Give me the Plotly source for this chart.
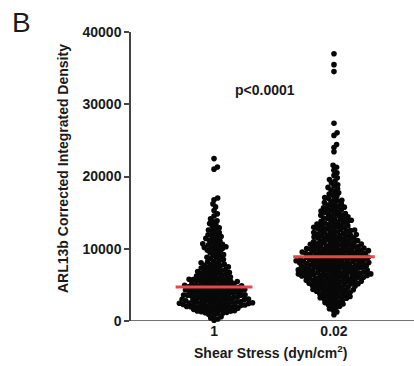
import math
import plotly.graph_objects as go

# ---------------- data ----------------
categories = ["1", "0.02"]
y_ticks = [0, 10000, 20000, 30000, 40000]
y_tick_labels = ["0", "10000", "20000", "30000", "40000"]

shear_1 = [
    110, 280, 430, 600, 750, 910,
    1030, 1090, 1130, 1200, 1240, 1290, 1350, 1390, 1440, 1480, 1530, 1560,
    1610, 1650, 1700, 1740, 1780, 1820, 1870, 1900, 1940, 1980,
    2010, 2040, 2060, 2100, 2130, 2160, 2190, 2220, 2250, 2280, 2310, 2340,
    2370, 2400, 2430, 2460, 2490, 2520, 2550, 2580, 2610, 2640, 2670, 2700,
    2730, 2760, 2790, 2820, 2850, 2880, 2920, 2960,
    3020, 3050, 3090, 3120, 3150, 3190, 3220, 3260, 3290, 3320, 3360, 3390,
    3430, 3460, 3490, 3530, 3560, 3600, 3630, 3660, 3700, 3730, 3770, 3800,
    3830, 3870, 3900, 3940, 3970,
    4020, 4060, 4090, 4130, 4160, 4200, 4230, 4270, 4300, 4340, 4370, 4410,
    4440, 4480, 4510, 4550, 4580, 4620, 4650, 4690, 4720, 4760, 4790, 4830,
    4860, 4900, 4930, 4970,
    5020, 5060, 5110, 5150, 5200, 5240, 5290, 5330, 5380, 5420, 5470, 5510,
    5560, 5600, 5650, 5690, 5740, 5780, 5830, 5870, 5920, 5960,
    6030, 6090, 6150, 6210, 6280, 6340, 6400, 6460, 6530, 6590, 6650, 6710,
    6780, 6840, 6900, 6960,
    7040, 7110, 7190, 7270, 7340, 7420, 7490, 7570, 7650, 7720, 7800, 7870, 7950,
    8060, 8170, 8280, 8390, 8500, 8610, 8720, 8830, 8940,
    9060, 9180, 9310, 9430, 9560, 9680, 9810, 9930,
    10030, 10110, 10190, 10280, 10360, 10450, 10530, 10620, 10700, 10790, 10880,
    11060, 11180, 11310, 11430, 11560, 11680, 11810, 11930,
    12080, 12250, 12410, 12580, 12740, 12910,
    13080, 13310, 13490, 13720, 13880,
    14130, 14520, 14830,
    15280, 15790,
    16210, 16790, 17020,
    21020, 21310, 22480,
]

shear_002 = [
    870,
    1260, 1480, 1700, 1890,
    2050, 2150, 2260, 2350, 2450, 2550, 2640, 2750, 2850, 2950,
    3030, 3090, 3150, 3220, 3280, 3340, 3400, 3470, 3530, 3590, 3650, 3720,
    3780, 3840, 3900, 3970,
    4020, 4070, 4120, 4170, 4220, 4270, 4320, 4370, 4420, 4470, 4520, 4570,
    4620, 4670, 4720, 4770, 4820, 4870, 4920, 4970,
    5010, 5050, 5090, 5130, 5170, 5210, 5240, 5280, 5320, 5360, 5400, 5440,
    5480, 5510, 5550, 5590, 5630, 5670, 5710, 5750, 5780, 5820, 5860, 5900,
    5940, 5980,
    6010, 6040, 6070, 6100, 6130, 6160, 6190, 6220, 6250, 6280, 6310, 6340,
    6370, 6400, 6430, 6460, 6490, 6520, 6550, 6580, 6610, 6640, 6670, 6700,
    6730, 6760, 6790, 6820, 6850, 6880, 6910, 6940, 6970,
    7010, 7040, 7070, 7110, 7140, 7170, 7200, 7240, 7270, 7300, 7330, 7370,
    7400, 7430, 7460, 7500, 7530, 7560, 7590, 7630, 7660, 7690, 7720, 7760,
    7790, 7820, 7850, 7890, 7920, 7950, 7980,
    8010, 8040, 8070, 8100, 8130, 8160, 8190, 8220, 8250, 8280, 8310, 8340,
    8370, 8400, 8430, 8460, 8490, 8520, 8550, 8580, 8610, 8640, 8670, 8700,
    8730, 8760, 8790, 8820, 8850, 8880, 8920, 8960,
    9010, 9040, 9080, 9110, 9140, 9180, 9210, 9240, 9280, 9310, 9340, 9380,
    9410, 9440, 9480, 9510, 9540, 9580, 9610, 9640, 9680, 9710, 9740, 9780,
    9810, 9840, 9880, 9910, 9940, 9970,
    10020, 10060, 10100, 10140, 10180, 10220, 10260, 10300, 10340, 10380,
    10420, 10460, 10500, 10540, 10580, 10620, 10660, 10700, 10740, 10780,
    10820, 10860, 10910, 10960,
    11030, 11080, 11130, 11180, 11230, 11280, 11330, 11380, 11430, 11480,
    11530, 11580, 11630, 11680, 11730, 11780, 11830, 11880, 11930, 11970,
    12030, 12090, 12140, 12200, 12250, 12310, 12360, 12420, 12470, 12530,
    12580, 12640, 12690, 12750, 12800, 12860, 12910, 12960,
    13030, 13100, 13160, 13230, 13290, 13360, 13420, 13490, 13550, 13620,
    13680, 13750, 13810, 13880, 13940,
    14040, 14110, 14190, 14260, 14340, 14410, 14490, 14560, 14640, 14710,
    14790, 14860, 14940,
    15050, 15130, 15220, 15310, 15400, 15490, 15580, 15670, 15760, 15850, 15940,
    16060, 16170, 16280, 16390, 16500, 16610, 16720, 16830, 16940,
    17080, 17250, 17410, 17580, 17740, 17910,
    18120, 18300, 18490, 18670, 18860,
    19100, 19360, 19580, 19820,
    20150, 20520, 20870,
    21280, 21560,
    23420, 24010, 24430, 25690, 26040, 27380,
    34520, 35480, 36980,
]

medians = [4700, 8900]
p_text = "p<0.0001"

# ---------------- layout geometry ----------------
W, H = 414, 366
ML, MR, MT, MB = 131, 0, 32, 45
plot_w = W - ML - MR
plot_h = H - MT - MB
y_range = [0, 40000]
x_range = [-0.692, 1.667]
px_per_x = plot_w / (x_range[1] - x_range[0])
px_per_y = plot_h / (y_range[1] - y_range[0])

DOT = 5.6      # marker diameter in px
GAP = 4.0      # centre spacing in px
AXIS_COLOR = "#444444"


def swarm_offsets(values):
    """Beeswarm: x offsets (data units) so dots do not overlap."""
    placed = []
    out = []
    for v in values:
        y = v * px_per_y
        near = [(px, py) for px, py in placed if abs(py - y) < GAP]
        cands = [0.0]
        for px, py in near:
            dx = math.sqrt(GAP * GAP - (py - y) ** 2)
            cands += [px + dx, px - dx]
        cands.sort(key=abs)
        chosen = 0.0
        for c in cands:
            if all((c - px) ** 2 + (y - py) ** 2 >= GAP * GAP - 1e-6 for px, py in near):
                chosen = c
                break
        placed.append((chosen, y))
        out.append(chosen / px_per_x)
    return out


fig = go.Figure()
groups = [shear_1, shear_002]
for i, vals in enumerate(groups):
    vals_sorted = sorted(vals)
    offs = swarm_offsets(vals_sorted)
    fig.add_trace(go.Scatter(
        x=[i + o for o in offs], y=vals_sorted, mode="markers",
        marker=dict(size=DOT, color="#080808", line=dict(width=0)),
        cliponaxis=False, showlegend=False, hoverinfo="y"))

half = [0.32, 0.34]
for i, m in enumerate(medians):
    fig.add_trace(go.Scatter(
        x=[i - half[i], i + half[i]], y=[m, m], mode="lines",
        line=dict(color="#e8474a", width=3), showlegend=False))


def xp(px):
    return (px - ML) / plot_w


def yp(py):
    return 1 - (py - MT) / plot_h


def b(s):
    return "<b>" + s + "</b>"


font = dict(family="Liberation Sans", size=14, color="#1a1a1a")

fig.update_layout(
    width=W, height=H,
    margin=dict(l=ML, r=MR, t=MT, b=MB, pad=0),
    paper_bgcolor="white", plot_bgcolor="white",
    xaxis=dict(range=x_range, tickvals=[0, 1], ticktext=[b(c) for c in categories],
               showline=False, ticks="", showgrid=False, zeroline=False,
               tickfont=font),
    yaxis=dict(range=y_range, tickvals=y_ticks, ticktext=[b(t) for t in y_tick_labels],
               showline=True, linecolor=AXIS_COLOR, linewidth=1.5,
               ticks="outside", ticklen=5, tickwidth=1.5, tickcolor=AXIS_COLOR,
               showgrid=False, zeroline=False, tickfont=font),
    shapes=[dict(type="line", xref="paper", yref="y", x0=0, x1=1, y0=0, y1=0,
                 line=dict(color=AXIS_COLOR, width=1.5), layer="below")],
    annotations=[
        dict(text=b("ARL13b Corrected Integrated Density"), xref="paper", yref="paper",
             x=xp(63), y=yp(169), textangle=-90, showarrow=False,
             xanchor="center", yanchor="middle", font=font),
        dict(text=b("Shear Stress (dyn/cm<sup>2</sup>)"), xref="paper", yref="paper",
             x=xp(270), y=yp(352), showarrow=False, xanchor="center", yanchor="middle",
             font=font),
        dict(text=b(p_text), xref="paper", yref="paper", x=xp(265), y=yp(90),
             showarrow=False, xanchor="center", yanchor="middle", font=font),
        dict(text="B", xref="paper", yref="paper", x=xp(21), y=yp(23),
             showarrow=False, xanchor="center", yanchor="middle",
             font=dict(family="Liberation Sans", size=28, color="#1a1a1a")),
    ],
)

fig.write_html("out.html", config={"displayModeBar": False})
